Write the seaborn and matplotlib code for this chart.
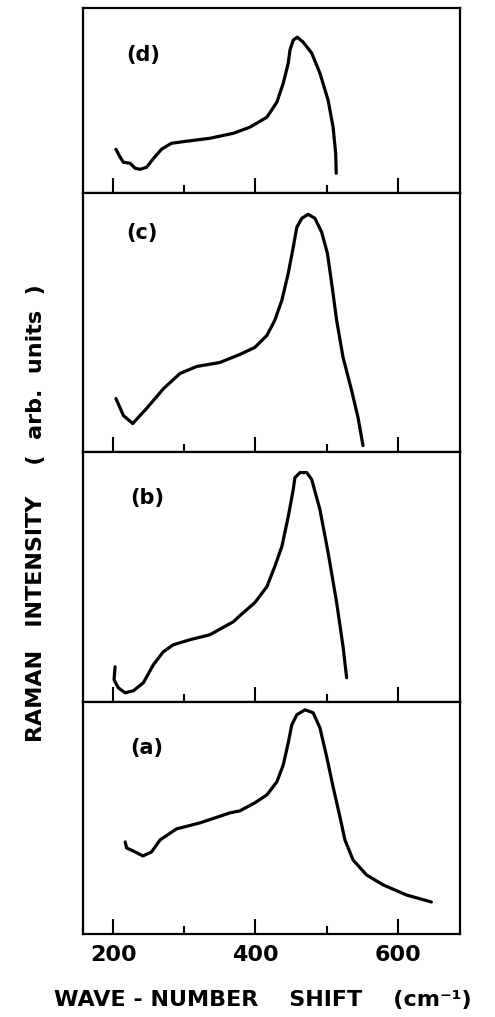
import matplotlib
matplotlib.use("Agg")
import matplotlib.pyplot as plt
import seaborn as sns
import pandas as pd

sns.set_style("ticks")
plt.rcParams['font.family'] = ['DejaVu Sans']
plt.rcParams['text.color'] = 'black'
plt.rcParams['axes.labelcolor'] = 'black'
plt.rcParams['xtick.color'] = 'black'

# Raman spectra (intensity in arbitrary units)
wn_a = [217, 219, 231, 242, 254, 266, 289, 322, 364, 378, 399, 416, 430, 439, 446, 451, 458,
        469.5, 481, 490.5, 500, 509, 518.6, 525.6, 537, 556, 579.5, 612, 647]
int_a = [92, 86, 82, 78, 82, 94, 105, 111, 121, 123, 131, 139, 152, 169, 191, 209, 219,
         224, 221, 206, 177, 147, 117, 94, 74, 59, 49, 39, 32]

wn_b = [202.8, 201.4, 207.4, 216.8, 228.5, 242.5, 256.6, 270.6, 284.6, 308, 336, 369, 378, 399,
        416, 427, 437, 446, 453, 455.4, 462.5, 472, 479, 490.5, 502, 514, 523, 528]
int_b = [35, 22, 14, 9, 11, 19, 37, 50, 57, 62, 67, 80, 86, 99,
         115, 135, 155, 185, 212, 224, 229, 229, 222, 192, 149, 99, 55, 24]

wn_c = [204, 214.5, 227.6, 247, 271, 294, 317.5, 350, 378, 399, 416, 427, 437, 446, 453, 458,
        465, 474, 483.5, 493, 501, 507, 514, 523, 535, 544, 551]
int_c = [53, 36, 28, 43, 63, 78, 85, 89, 97, 104, 116, 131, 151, 178, 204, 224,
         233, 237, 233, 219, 198, 168, 131, 94, 61, 34, 6]

wn_d = [204, 210, 214.5, 224, 231, 238, 247, 257, 268, 282, 303, 336, 369, 392, 416, 430, 439,
        446, 448.4, 453, 458.7, 467, 479, 490.5, 502, 509, 512.6, 513.4]
int_d = [44, 36, 31, 30, 25, 24, 26, 35, 44, 50, 52, 55, 60, 66, 76, 91, 110,
         130, 143, 153, 156, 151, 140, 120, 93, 66, 40, 20]

panels = [
    ("(d)", wn_d, int_d),
    ("(c)", wn_c, int_c),
    ("(b)", wn_b, int_b),
    ("(a)", wn_a, int_a),
]
panel_heights = [185, 258, 250, 232]
label_pos = [(0.16, 0.746), (0.155, 0.845), (0.17, 0.816), (0.17, 0.80)]

fig, axs = plt.subplots(nrows=4, sharex=True, figsize=(4.95, 10.17), dpi=100,
                        gridspec_kw={"height_ratios": panel_heights, "hspace": 0})
plt.subplots_adjust(left=0.168, right=0.929, top=0.992, bottom=0.0816)

for ax, (name, wn, inten), h, pos in zip(axs, panels, panel_heights, label_pos):
    df = pd.DataFrame({"wn": wn, "intensity": inten})
    sns.lineplot(data=df, x="wn", y="intensity", ax=ax, sort=False, estimator=None,
                 color="black", linewidth=2.3, solid_joinstyle="round", solid_capstyle="round")
    ax.set_ylim(0, h)
    ax.set_xlim(158, 687)
    ax.set_yticks([])
    ax.set_ylabel("")
    ax.set_xlabel("")
    ax.set_xticks([200, 400, 600])
    ax.set_xticks([300, 500], minor=True)
    ax.tick_params(axis="x", which="major", direction="in", length=11, width=1.5, top=False)
    ax.tick_params(axis="x", which="minor", direction="in", length=6, width=1.5, top=False)
    for s in ax.spines.values():
        s.set_linewidth(1.6)
        s.set_color("black")
    ax.text(pos[0], pos[1], name, transform=ax.transAxes, ha="center", va="center",
            fontsize=15, fontweight="bold")

axs[-1].tick_params(axis="x", which="major", labelsize=16, pad=8)
for lab in axs[-1].get_xticklabels():
    lab.set_fontweight("bold")

fig.text(0.531, 0.0167, "WAVE - NUMBER    SHIFT    (cm⁻¹)", ha="center", va="center",
         fontsize=16, fontweight="bold")
fig.text(0.073, 0.4956, "RAMAN   INTENSITY    (  arb.  units  )", rotation=90, ha="center",
         va="center", fontsize=16, fontweight="bold")

fig.savefig("out.png", dpi=100, facecolor="white")
